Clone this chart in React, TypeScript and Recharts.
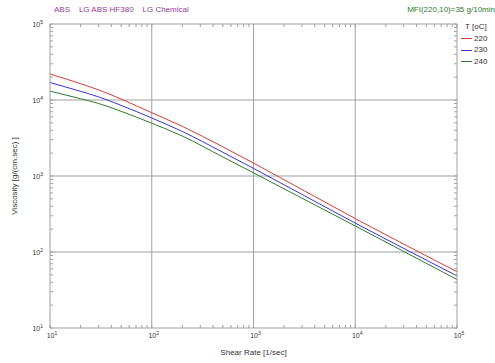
import React from 'react'
import { LineChart, Line, XAxis, YAxis, ReferenceLine, Legend } from 'recharts'

// shear rate [1/sec] and viscosity [g/(cm.sec)]
const shearRate = [10, 20, 30, 50, 100, 200, 500, 1000, 10000, 100000]
const visc220 = [22000, 16400, 13600, 10300, 6800, 4500, 2420, 1480, 275, 55]
const visc230 = [17000, 13000, 11000, 8500, 5800, 3850, 2050, 1260, 240, 48.5]
const visc240 = [13100, 10400, 9000, 7100, 4950, 3350, 1780, 1100, 220, 43.5]

const temps = ['220', '230', '240']
const colors = ['#d83a3a', '#3535d8', '#2f7a2f']

const xMajor = [10, 100, 1000, 10000, 100000]
const yMajor = [10, 100, 1000, 10000, 100000]

const minors = (major: number[]) => {
  const out: number[] = []
  major.slice(0, -1).forEach((d) => {
    for (let m = 1; m < 10; m++) out.push(d * m)
  })
  out.push(major[major.length - 1])
  return out
}
const xTicks = minors(xMajor)
const yTicks = minors(yMajor)

const data = shearRate.map((x, i) => ({
  x,
  v220: visc220[i],
  v230: visc230[i],
  v240: visc240[i],
}))

const FONT = '"Liberation Sans", Arial, sans-serif'
const AXIS = '#a0a0a0'
const TEXT = '#333'

const Pow = ({ x, y, value, anchor }: any) => {
  const exp = Math.round(Math.log10(value))
  return (
    <text x={x} y={y} textAnchor={anchor} fontSize={7} fill={TEXT} fontFamily={FONT}>
      10<tspan dy={-3} fontSize={5}>{exp}</tspan>
    </text>
  )
}

const BottomTick = (p: any) => (
  <g>
    <line x1={p.x} y1={p.y} x2={p.x} y2={p.y - 3} stroke={AXIS} />
    {xMajor.includes(p.payload.value) && <Pow x={p.x + 2} y={p.y + 10} value={p.payload.value} anchor="middle" />}
  </g>
)
const TopTick = (p: any) => <line x1={p.x} y1={p.y} x2={p.x} y2={p.y + 3} stroke={AXIS} />
const LeftTick = (p: any) => (
  <g>
    <line x1={p.x} y1={p.y} x2={p.x + 3} y2={p.y} stroke={AXIS} />
    {yMajor.includes(p.payload.value) && <Pow x={p.x - 7} y={p.y + 3} value={p.payload.value} anchor="end" />}
  </g>
)
const RightTick = (p: any) => <line x1={p.x} y1={p.y} x2={p.x - 3} y2={p.y} stroke={AXIS} />

const LegendBox = ({ payload }: any) => (
  <div style={{ fontFamily: FONT, fontSize: 8, color: TEXT, lineHeight: '11.7px' }}>
    <div style={{ marginLeft: 4 }}>T [oC]</div>
    {(payload || []).map((e: any) => (
      <div key={e.value} style={{ display: 'flex', alignItems: 'center' }}>
        <span style={{ display: 'inline-block', width: 11, height: 1, background: e.color, marginRight: 2 }} />
        {e.value}
      </div>
    ))}
  </div>
)

export default function App() {
  const series = [visc220, visc230, visc240].map((_, i) => ({ key: 'v' + temps[i], name: temps[i], color: colors[i] }))
  return (
    <div style={{ position: 'absolute', left: 0, top: 0, width: 495, height: 363, background: '#fff', fontFamily: FONT }}>
      <div style={{ position: 'absolute', left: 54, top: 5, fontSize: 8, color: '#9a3a9a', whiteSpace: 'pre' }}>
        {'ABS    LG ABS HF380    LG Chemical'}
      </div>
      <div style={{ position: 'absolute', right: 0, top: 5, fontSize: 8, color: '#2f7a2f' }}>MFI(220,10)=35 g/10min</div>
      <LineChart width={495} height={363} data={data} margin={{ top: 0, right: 0, bottom: 0, left: 0 }}>
        <XAxis
          xAxisId="b"
          dataKey="x"
          type="number"
          scale="log"
          domain={[10, 100000]}
          allowDataOverflow
          ticks={xTicks}
          interval={0}
          tick={<BottomTick />}
          tickLine={false}
          tickSize={0}
          tickMargin={0}
          height={35}
          axisLine={{ stroke: AXIS }}
          label={{ value: 'Shear Rate [1/sec]', position: 'insideBottom', offset: 8, fontSize: 8, fill: TEXT }}
        />
        <XAxis
          xAxisId="t"
          orientation="top"
          dataKey="x"
          type="number"
          scale="log"
          domain={[10, 100000]}
          allowDataOverflow
          ticks={xTicks}
          interval={0}
          tick={<TopTick />}
          tickLine={false}
          tickSize={0}
          tickMargin={0}
          height={24}
          axisLine={{ stroke: AXIS }}
        />
        <YAxis
          yAxisId="l"
          type="number"
          scale="log"
          domain={[10, 100000]}
          allowDataOverflow
          ticks={yTicks}
          interval={0}
          tick={<LeftTick />}
          tickLine={false}
          tickSize={0}
          tickMargin={0}
          width={50}
          axisLine={{ stroke: AXIS }}
          label={{ value: 'Viscosity [g/(cm.sec) ]', angle: -90, position: 'insideLeft', offset: 14, fontSize: 8, fill: TEXT, style: { textAnchor: 'middle' } }}
        />
        <YAxis
          yAxisId="r"
          orientation="right"
          type="number"
          scale="log"
          domain={[10, 100000]}
          allowDataOverflow
          ticks={yTicks}
          interval={0}
          tick={<RightTick />}
          tickLine={false}
          tickSize={0}
          tickMargin={0}
          width={38}
          axisLine={{ stroke: AXIS }}
        />
        {xMajor.slice(1, -1).map((v) => (
          <ReferenceLine key={'x' + v} xAxisId="b" yAxisId="l" x={v} stroke={AXIS} />
        ))}
        {yMajor.slice(1, -1).map((v) => (
          <ReferenceLine key={'y' + v} xAxisId="b" yAxisId="l" y={v} stroke={AXIS} />
        ))}
        {series.map((s) => (
          <Line
            key={s.key}
            xAxisId="b"
            yAxisId="l"
            dataKey={s.key}
            name={s.name}
            stroke={s.color}
            strokeWidth={1}
            dot={false}
            type="monotone"
            isAnimationActive={false}
          />
        ))}
        <Legend
          layout="vertical"
          align="center"
          verticalAlign="middle"
          content={<LegendBox />}
          wrapperStyle={{ left: 461, top: 21, width: 34 }}
        />
      </LineChart>
    </div>
  )
}
